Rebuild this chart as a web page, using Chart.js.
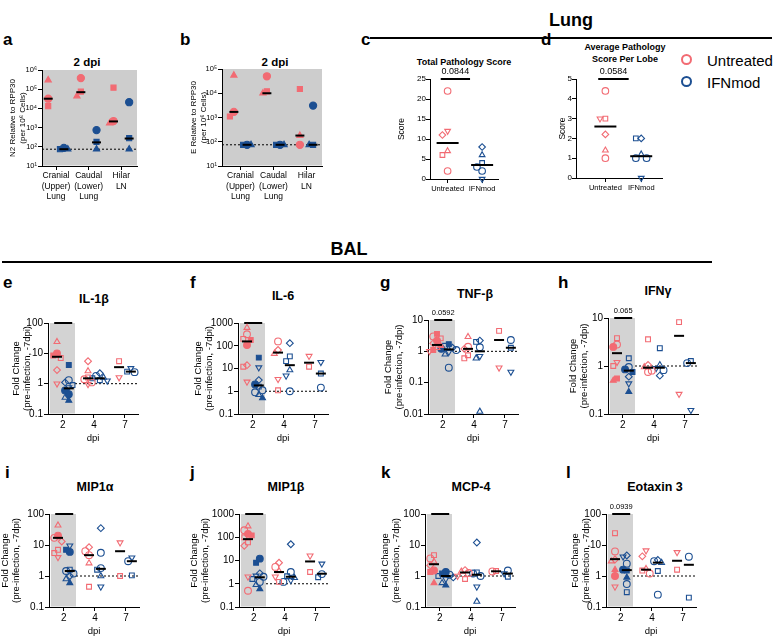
<!DOCTYPE html>
<html>
<head>
<meta charset="utf-8">
<script src="https://cdn.jsdelivr.net/npm/chart.js@4.4.0/dist/chart.umd.min.js"></script>
<style>
  body { margin: 0; width: 774px; height: 640px; position: relative; background: #fff; overflow: hidden;
         font-family: 'Liberation Sans', Arial, sans-serif; color: #000; }
  canvas { position: absolute; }
  .t { position: absolute; font-weight: bold; transform: translate(-50%, -50%); white-space: nowrap; text-align: center; }
  .lt { position: absolute; font-weight: bold; font-size: 17px; line-height: 1; }
  .rule { position: absolute; height: 2px; background: #000; }
  .dot { position: absolute; width: 7px; height: 7px; border: 2.5px solid; border-radius: 50%; }
  .lg { position: absolute; font-size: 15px; transform: translateY(-50%); }
</style>
</head>
<body>
<div class="t" style="left:571px;top:20px;font-size:18px">Lung</div>
<div class="rule" style="left:370px;top:37px;width:402px"></div>
<div class="t" style="left:349px;top:249px;font-size:18px">BAL</div>
<div class="rule" style="left:2px;top:261px;width:710px"></div>

<div class="lt" style="left:3px;top:31px">a</div>
<div class="lt" style="left:180px;top:31px">b</div>
<div class="lt" style="left:361px;top:31px">c</div>
<div class="lt" style="left:541px;top:31px">d</div>
<div class="lt" style="left:3px;top:274px">e</div>
<div class="lt" style="left:190px;top:274px">f</div>
<div class="lt" style="left:380px;top:274px">g</div>
<div class="lt" style="left:558px;top:274px">h</div>
<div class="lt" style="left:5px;top:464px">i</div>
<div class="lt" style="left:190px;top:464px">j</div>
<div class="lt" style="left:381px;top:464px">k</div>
<div class="lt" style="left:566px;top:464px">l</div>

<div class="t" style="left:87px;top:62px;font-size:11.5px">2 dpi</div>
<div class="t" style="left:275px;top:62px;font-size:11.5px">2 dpi</div>
<div class="t" style="left:464px;top:62px;font-size:9px">Total Pathology Score</div>
<div class="t" style="left:625px;top:53px;font-size:9px;line-height:12px">Average Pathology<br>Score Per Lobe</div>
<div class="t" style="left:94px;top:299px;font-size:12.5px">IL-1β</div>
<div class="t" style="left:283px;top:296px;font-size:12.5px">IL-6</div>
<div class="t" style="left:475px;top:294px;font-size:12.5px">TNF-β</div>
<div class="t" style="left:658px;top:291px;font-size:12.5px">IFNγ</div>
<div class="t" style="left:95px;top:487px;font-size:12.5px">MIP1α</div>
<div class="t" style="left:286px;top:487px;font-size:12.5px">MIP1β</div>
<div class="t" style="left:471px;top:487px;font-size:12.5px">MCP-4</div>
<div class="t" style="left:655px;top:487px;font-size:12.5px">Eotaxin 3</div>

<div class="dot" style="left:681px;top:54px;border-color:#f26b73"></div>
<div class="lg" style="left:707px;top:60px">Untreated</div>
<div class="dot" style="left:681px;top:76px;border-color:#1c4f92"></div>
<div class="lg" style="left:707px;top:82px">IFNmod</div>

<script>
// ---- data -------------------------------------------------------------
// marker codes: o circle, s square, ^ triangle, v inverted triangle, d diamond (open)
//               O, S, T = filled circle, square, triangle
const sites = [['Cranial', '(Upper)', 'Lung'], ['Caudal', '(Lower)', 'Lung'], ['Hilar', 'LN']];
const lod = 75;

// a: N2 relative to RPP30, rows = [site, value, marker]
const n2Unt = [[1, 3e5, 'T'], [1, 3.2e4, 'O'], [1, 1.3e4, 'S'], [2, 3.8e5, 'O'], [2, 7.4e4, 'S'], [2, 4.4e4, 'T'],
               [3, 1.2e5, 'S'], [3, 2.2e3, 'O'], [3, 1.7e3, 'T']];
const n2Ifn = [[1, 88, 'O'], [1, 75, 'S'], [1, 75, 'T'], [2, 740, 'O'], [2, 180, 'S'], [2, 75, 'T'],
               [3, 2.1e4, 'O'], [3, 280, 'S'], [3, 75, 'T']];
const n2UntMed = [3.2e4, 7e4, 2.1e3];
const n2IfnMed = [75, 170, 270];

// b: E relative to RPP30
const envUnt = [[1, 5.5e4, 'T'], [1, 1.7e3, 'O'], [1, 1.1e3, 'S'], [2, 5e4, 'O'], [2, 1.2e4, 'S'], [2, 1.0e4, 'T'],
                [3, 1.5e4, 'S'], [3, 180, 'T'], [3, 75, 'O']];
const envIfn = [[1, 75, 'O'], [1, 75, 'S'], [1, 75, 'T'], [2, 75, 'O'], [2, 75, 'S'], [2, 75, 'T'],
                [3, 3.1e3, 'O'], [3, 75, 'S'], [3, 75, 'T']];
const envUntMed = [1.7e3, 1.0e4, 180];
const envIfnMed = [75, 75, 75];

// c, d: pathology scores
const groups = ['Untreated', 'IFNmod'];
const totalPathUnt = [[1, 22, 'o'], [1, 12, 'v'], [1, 11, 'd'], [1, 7, '^'], [1, 6, 's'], [1, 2, 'o']];
const totalPathIfn = [[2, 8, 'd'], [2, 6, '^'], [2, 4, 's'], [2, 3, 'o'], [2, 2, 'o'], [2, 0, 'v']];
const totalPathMed = [9, 3.5];
const avgPathUnt = [[1, 4.4, 'o'], [1, 3, 's'], [1, 3, 'v'], [1, 2.2, 'd'], [1, 1.4, '^'], [1, 1, 'o']];
const avgPathIfn = [[2, 2, 'd'], [2, 2, 's'], [2, 1.2, '^'], [2, 1, 'o'], [2, 1, 'o'], [2, 0, 'v']];
const avgPathMed = [2.6, 1.1];

// e-l: BAL fold change, rows = [dpi, value, marker]
const dpiLabels = ['2', '4', '7'];

const il1bUnt = [[2, 24, '^'], [2, 10, 'O'], [2, 8.5, 'S'], [2, 7, 's'], [2, 2.8, 'd'], [2, 1.0, 'v'],
  [4, 5.5, 'd'], [4, 2.6, '^'], [4, 1.6, 's'], [4, 1.4, 'o'], [4, 1.1, 'o'], [4, 0.95, 'v'],
  [7, 5.5, 's'], [7, 1.6, 'v']];
const il1bIfn = [[2, 4.1, 'S'], [2, 1.3, 'o'], [2, 1.1, 'd'], [2, 0.9, 's'], [2, 0.75, 'v'], [2, 0.6, 'O'], [2, 0.45, 'O'], [2, 0.35, '^'], [2, 0.28, 'T'],
  [4, 2.2, 'd'], [4, 1.8, 'o'], [4, 1.6, '^'], [4, 1.5, 's'], [4, 1.3, 's'], [4, 1.25, 'v'],
  [7, 3.2, 'v'], [7, 2.5, 's'], [7, 2.4, 'o']];
const il1bUntMed = [7.7, 1.5, 3.5];
const il1bIfnMed = [0.7, 1.5, 2.5];

const il6Unt = [[2, 620, '^'], [2, 320, 'o'], [2, 200, 's'], [2, 180, 'S'], [2, 107, 'O'], [2, 14, 'd'], [2, 12, 's'], [2, 2.6, 'v'],
  [4, 155, 'o'], [4, 65, 'd'], [4, 45, '^'], [4, 3.4, 'v'], [4, 1.1, 's'],
  [7, 35, 'v'], [7, 12, 's']];
const il6Ifn = [[2, 30, 'S'], [2, 11, 'v'], [2, 3.1, 'd'], [2, 2.0, 'O'], [2, 1.6, 's'], [2, 1.1, 'o'], [2, 0.9, 'o'], [2, 0.7, '^'], [2, 0.5, 'T'],
  [4, 130, 'd'], [4, 34, 's'], [4, 21, 's'], [4, 8.5, '^'], [4, 4.8, 'v'], [4, 1.0, 'o'],
  [7, 19, 'v'], [7, 6, 's'], [7, 1.45, 'o']];
const il6UntMed = [155, 50, 18];
const il6IfnMed = [1.8, 14, 6];

const tnfbUnt = [[2, 3.6, 'S'], [2, 3.0, 'o'], [2, 2.6, 's'], [2, 2.2, 'O'], [2, 1.8, 'd'], [2, 1.5, 'T'], [2, 1.3, '^'], [2, 1.1, 'S'], [2, 1.0, 'v'],
  [4, 2.9, '^'], [4, 1.4, 'o'], [4, 1.2, 'd'], [4, 0.75, 's'], [4, 0.6, 's'],
  [7, 4.5, 's'], [7, 0.3, 'v']];
const tnfbIfn = [[2, 1.7, 'S'], [2, 1.5, 's'], [2, 1.3, 'd'], [2, 1.2, 'O'], [2, 1.1, 'o'], [2, 0.95, 'v'], [2, 0.8, '^'], [2, 0.3, 'o'],
  [4, 2.2, 'd'], [4, 2.0, 's'], [4, 1.35, 'o'], [4, 0.7, 'v'], [4, 0.6, '^'], [4, 0.012, '^'],
  [7, 2.3, 'o'], [7, 1.3, 's'], [7, 0.22, 'v']];
const tnfbUntMed = [1.6, 1.2, 2.3];
const tnfbIfnMed = [1.15, 1.0, 1.3];

const ifngUnt = [[2, 3.8, 's'], [2, 2.8, 'o'], [2, 2.5, 'O'], [2, 1.2, 'v'], [2, 1.0, 's'], [2, 0.55, 'S'], [2, 0.5, 'T'],
  [4, 3.6, 's'], [4, 1.05, 'd'], [4, 0.95, '^'], [4, 0.8, 'o'], [4, 0.75, 'o'],
  [7, 8.2, 's'], [7, 0.26, 'v']];
const ifngIfn = [[2, 1.45, 's'], [2, 0.95, 'o'], [2, 0.85, 'O'], [2, 0.75, 'S'], [2, 0.6, 'd'], [2, 0.43, 'v'], [2, 0.29, 'T'],
  [4, 2.35, 's'], [4, 1.05, '^'], [4, 0.9, 'v'], [4, 0.82, 'o'], [4, 0.63, 'd'],
  [7, 1.27, 's'], [7, 1.15, 'o'], [7, 0.12, 'v']];
const ifngUntMed = [1.85, 0.92, 4.25];
const ifngIfnMed = [0.8, 0.92, 1.15];

const mip1aUnt = [[2, 43, '^'], [2, 20, 'O'], [2, 17, 'o'], [2, 13, 'd'], [2, 7, 's'], [2, 5.5, 's'], [2, 4, 'v'],
  [4, 8.5, 'd'], [4, 6.3, 'o'], [4, 4.7, 'o'], [4, 2.6, '^'], [4, 0.45, 's'],
  [7, 12, 'v'], [7, 1.0, 's']];
const mip1aIfn = [[2, 9.5, 'v'], [2, 7, 'S'], [2, 6, 'O'], [2, 1.6, 's'], [2, 1.45, 'o'], [2, 1.2, 'o'], [2, 1.0, 'd'], [2, 0.8, '^'], [2, 0.6, 'T'],
  [4, 35, 'd'], [4, 5.6, 'o'], [4, 1.8, 'o'], [4, 1.6, 's'], [4, 1.0, '^'], [4, 0.45, 'v'],
  [7, 3.9, 'v'], [7, 3.0, 'o'], [7, 1.05, 's']];
const mip1aUntMed = [17, 4.7, 6.3];
const mip1aIfnMed = [1.45, 1.7, 3.0];

const mip1bUnt = [[2, 300, '^'], [2, 200, 'o'], [2, 140, 'O'], [2, 120, 'S'], [2, 100, 's'], [2, 60, 's'], [2, 43, 'd'], [2, 2, 'v'], [2, 0.5, 'o'],
  [4, 8, 'd'], [4, 5.3, 'o'], [4, 3.5, '^'], [4, 2, 'v'], [4, 1.2, 's'],
  [7, 16, 'v'], [7, 3.2, 's']];
const mip1bIfn = [[2, 12, 'O'], [2, 8, 'S'], [2, 2.8, 'd'], [2, 2.2, 'v'], [2, 2.0, 'o'], [2, 1.6, 's'], [2, 1.2, 'o'], [2, 0.9, '^'], [2, 0.6, 'T'],
  [4, 50, 'd'], [4, 3.2, 'o'], [4, 2.1, 's'], [4, 1.8, '^'], [4, 1.4, 'v'], [4, 1.2, 'o'],
  [7, 7.2, 'v'], [7, 2.6, 'o'], [7, 1.9, 's']];
const mip1bUntMed = [83, 3.2, 9.1];
const mip1bIfnMed = [1.9, 2.0, 2.7];

const mcp4Unt = [[2, 4.7, 's'], [2, 3.7, 'o'], [2, 2.9, '^'], [2, 2.2, 'd'], [2, 1.5, 'O'], [2, 1.35, 'S'], [2, 0.6, 'T'],
  [4, 1.55, 'd'], [4, 1.4, '^'], [4, 1.25, 'o'], [4, 1.0, 'v'], [4, 0.8, 's'],
  [7, 1.45, 's'], [7, 1.4, 'o']];
const mcp4Ifn = [[2, 1.35, 'O'], [2, 1.2, 'S'], [2, 1.1, 'o'], [2, 1.0, 's'], [2, 0.9, 'd'], [2, 0.8, 'v'], [2, 0.6, '^'], [2, 0.5, 'T'],
  [4, 12, 'd'], [4, 1.3, 's'], [4, 1.2, 'o'], [4, 1.0, 'o'], [4, 0.45, 'v'], [4, 0.15, '^'],
  [7, 1.5, 'o'], [7, 1.2, 'v'], [7, 0.95, 's']];
const mcp4UntMed = [2.4, 1.3, 1.42];
const mcp4IfnMed = [1.0, 1.1, 1.2];

const eot3Unt = [[2, 24, 's'], [2, 6.2, 'o'], [2, 3.4, 'd'], [2, 3.0, '^'], [2, 1.6, 'T'], [2, 1.0, 'O'], [2, 0.45, 'v'],
  [4, 6.6, 'v'], [4, 4.3, 'd'], [4, 1.7, '^'], [4, 1.5, 's'], [4, 1.2, 'o'],
  [7, 5.8, 'v'], [7, 1.6, 's']];
const eot3Ifn = [[2, 4.6, 'd'], [2, 4.2, 'v'], [2, 2.5, 'o'], [2, 1.6, 'O'], [2, 1.5, 'S'], [2, 0.9, 'T'], [2, 0.55, 'o'], [2, 0.3, 's'],
  [4, 3.3, 'd'], [4, 3.0, 'o'], [4, 2.7, '^'], [4, 1.45, 's'], [4, 0.25, 'o'],
  [7, 4.2, 'o'], [7, 0.2, 's']];
const eot3UntMed = [3.5, 1.6, 3.1];
const eot3IfnMed = [1.55, 2.7, 2.3];

// ---- drawing ----------------------------------------------------------
const FONT = "'Liberation Sans', Arial, sans-serif";
const PINK = '#f26b73', BLUE = '#1c4f92';
const SHAPES = { o: 'circle', O: 'circle', s: 'rect', S: 'rect', '^': 'triangle', T: 'triangle', v: 'triangle', d: 'rectRot' };
const SUP = { 1: '¹', 2: '²', 3: '³', 4: '⁴', 5: '⁵', 6: '⁶' };
Chart.defaults.font.family = FONT;
Chart.defaults.color = '#000';

// spread overlapping points sideways, like the prism scatter
function swarm(vals, frac, step) {
  const placed = [];
  return vals.map(v => {
    const f = frac(v);
    let col = 0;
    for (const c of [0, -1, 1, -2, 2, -3, 3]) {
      if (!placed.some(p => p.c === c && Math.abs(p.f - f) < 0.065)) { col = c; break; }
    }
    placed.push({ c: col, f });
    return col * step;
  });
}

function groupPoints(rows, catOf, shift, frac, step) {
  const out = [];
  [...new Set(rows.map(r => catOf(r[0])))].forEach(ci => {
    const grp = rows.filter(r => catOf(r[0]) === ci);
    const offs = swarm(grp.map(r => r[1]), frac, step);
    grp.forEach((r, k) => out.push({ x: ci + shift + offs[k], y: r[1], m: r[2] }));
  });
  return out;
}

function markerSet(points, color, r) {
  const mk = c => (c.raw ? c.raw.m : 'o');
  return {
    type: 'scatter', data: points, order: 1, clip: false,
    pointStyle: c => SHAPES[mk(c)],
    pointRotation: c => (mk(c) === 'v' ? 180 : 0),
    pointRadius: r, pointBorderWidth: 1.1, pointBorderColor: color,
    pointBackgroundColor: c => ('OST'.includes(mk(c)) ? color : 'rgba(0,0,0,0)')
  };
}

function medianSet(meds, firstCat, shift, half) {
  return {
    type: 'scatter', data: meds.map((v, i) => ({ x: firstCat + i + shift, y: v })), order: 0, clip: false,
    pointStyle: 'line', pointRadius: half, pointBorderWidth: 2, pointBorderColor: '#000', pointBackgroundColor: '#000'
  };
}

function lineSet(x0, x1, y, dash, w) {
  return {
    type: 'line', data: [{ x: x0, y }, { x: x1, y }], order: 2, clip: false, fill: false,
    borderColor: '#000', borderWidth: w, borderDash: dash, pointRadius: 0
  };
}

const decor = {
  id: 'decor',
  beforeDatasetsDraw(chart, args, o) {
    if (!o.grey) return;
    const a = chart.chartArea, x = chart.scales.x, ctx = chart.ctx;
    const l = Math.max(x.getPixelForValue(o.grey[0]), a.left + 1);
    const r = Math.min(x.getPixelForValue(o.grey[1]), a.right);
    ctx.save();
    ctx.fillStyle = o.greyColor;
    ctx.fillRect(l, a.top, r - l, a.bottom - a.top - 0.5);
    ctx.restore();
  },
  afterDatasetsDraw(chart, args, o) {
    if (!o.sig || !o.sig.text) return;
    const ctx = chart.ctx, x = chart.scales.x, y = chart.scales.y;
    ctx.save();
    ctx.font = o.sig.size + 'px ' + FONT;
    ctx.fillStyle = '#000';
    ctx.textAlign = 'center';
    ctx.textBaseline = 'bottom';
    ctx.fillText(o.sig.text, x.getPixelForValue((o.sig.x0 + o.sig.x1) / 2), y.getPixelForValue(o.sig.y) - 3);
    ctx.restore();
  }
};

function decades(lo, hi) {
  const out = [];
  for (let e = Math.round(Math.log10(lo)); e <= Math.round(Math.log10(hi)); e++) out.push(Number((10 ** e).toPrecision(1)));
  return out;
}

function makeChart(p) {
  const lh = p.yTitleSize * 1.2;
  const left = Math.floor(p.titleX - lh / 2 - 1);
  const W = p.axisX - left;
  const w = W + p.plotW + 8, h = p.plotBottom + p.xH - p.top;
  const cv = document.createElement('canvas');
  cv.width = w; cv.height = h;
  cv.style.cssText = `left:${left}px;top:${p.top}px;width:${w}px;height:${h}px`;
  document.body.appendChild(cv);

  const axisLines = { drawOnChartArea: false, color: '#000', lineWidth: 1, tickLength: 4 };
  const y = {
    type: p.yType, min: p.ymin, max: p.ymax,
    afterFit: s => { s.width = W; },
    ticks: { font: { size: p.tickSize }, color: '#000', padding: p.tickPad },
    grid: axisLines,
    border: { color: '#000', width: 1 },
    title: { display: true, text: p.yTitle, font: { size: p.yTitleSize }, color: '#000',
             padding: { top: p.titleX - lh / 2 - left, bottom: 0 } }
  };
  if (p.yType === 'logarithmic') {
    y.afterBuildTicks = s => { s.ticks = decades(p.ymin, p.ymax).map(v => ({ value: v })); };
    y.ticks.callback = p.yFmt;
  } else {
    y.ticks.stepSize = p.yStep;
  }
  const x = {
    type: 'linear', min: p.xmin, max: p.xmax,
    afterBuildTicks: s => { s.ticks = p.xLabels.map((_, i) => ({ value: i + 1 })); },
    afterFit: s => { s.height = p.xH; },
    ticks: { callback: (v, i) => p.xLabels[i], font: { size: p.xTickSize }, color: '#000',
             maxRotation: 0, minRotation: 0, autoSkip: false, padding: 1 },
    grid: axisLines,
    border: { color: '#000', width: 1 },
    title: { display: !!p.xTitle, text: p.xTitle, font: { size: 9.5 }, color: '#000', padding: { top: 0, bottom: 1 } }
  };

  new Chart(cv, {
    type: 'scatter',
    data: { datasets: p.datasets },
    options: {
      responsive: false, animation: false, devicePixelRatio: 1, events: [],
      layout: { padding: { top: p.plotTop - p.top, right: 8, left: 0, bottom: 0 } },
      scales: { x, y },
      plugins: {
        legend: { display: false }, tooltip: { enabled: false },
        decor: { grey: p.grey, greyColor: p.greyColor, sig: p.sig }
      }
    },
    plugins: [decor]
  });
}

const logFrac = (lo, hi) => v => (Math.log10(v) - Math.log10(lo)) / (Math.log10(hi) - Math.log10(lo));
const supFmt = v => '10' + SUP[Math.round(Math.log10(v))];

// a, b: viral RNA in tissue
[
  { unt: n2Unt, ifn: n2Ifn, untMed: n2UntMed, ifnMed: n2IfnMed, ymax: 1e6, axisX: 42, titleX: 13, plotW: 95,
    plotTop: 70, xmin: 0.57, xmax: 3.48, shift: 0.24, yTitle: ['N2 Relative to RPP30', '(per 10⁶ Cells)'] },
  { unt: envUnt, ifn: envIfn, untMed: envUntMed, ifnMed: envIfnMed, ymax: 1e5, axisX: 222, titleX: 194, plotW: 100,
    plotTop: 69, xmin: 0.44, xmax: 3.47, shift: 0.2, yTitle: ['E Relative to RPP30', '(per 10⁶ Cells)'] }
].forEach(c => {
  const frac = logFrac(10, c.ymax);
  const cat = s => s;
  makeChart({
    axisX: c.axisX, titleX: c.titleX, top: 60, plotTop: c.plotTop, plotBottom: 166, plotW: c.plotW, xH: 38,
    yType: 'logarithmic', ymin: 10, ymax: c.ymax, yFmt: supFmt, tickSize: 7.5, tickPad: 1,
    yTitle: c.yTitle, yTitleSize: 8,
    xmin: c.xmin, xmax: c.xmax, xLabels: sites, xTickSize: 8.5,
    grey: [c.xmin, c.xmax], greyColor: '#cdcdcd',
    datasets: [
      markerSet(groupPoints(c.unt, cat, -c.shift, frac, 0.12), PINK, 3.6),
      markerSet(groupPoints(c.ifn, cat, c.shift, frac, 0.12), BLUE, 3.6),
      medianSet(c.untMed, 1, -c.shift, 4.5),
      medianSet(c.ifnMed, 1, c.shift, 4.5),
      lineSet(c.xmin, c.xmax, lod, [2, 2], 1)
    ]
  });
});

// c, d: pathology scores
[
  { unt: totalPathUnt, ifn: totalPathIfn, med: totalPathMed, ymax: 25, step: 5, axisX: 430, titleX: 402, plotW: 73,
    xmin: 0.49, xmax: 2.46, plotBottom: 179, sig: '0.0844' },
  { unt: avgPathUnt, ifn: avgPathIfn, med: avgPathMed, ymax: 5, step: 1, axisX: 576, titleX: 563, plotW: 91,
    xmin: 0.18, xmax: 2.58, plotBottom: 178, sig: '0.0584' }
].forEach(c => {
  const frac = v => v / c.ymax;
  const cat = g => g;
  makeChart({
    axisX: c.axisX, titleX: c.titleX, top: 60, plotTop: 79, plotBottom: c.plotBottom, plotW: c.plotW, xH: 22,
    yType: 'linear', ymin: 0, ymax: c.ymax, yStep: c.step, tickSize: 8, tickPad: 0,
    yTitle: 'Score', yTitleSize: 8.5,
    xmin: c.xmin, xmax: c.xmax, xLabels: groups, xTickSize: 7.5,
    sig: { x0: 0.8, x1: 1.65, y: c.ymax, text: c.sig, size: 9 },
    datasets: [
      markerSet(groupPoints(c.unt, cat, 0, frac, 0.15), PINK, 3.3),
      markerSet(groupPoints(c.ifn, cat, 0, frac, 0.15), BLUE, 3.3),
      medianSet(c.med, 1, 0, 11),
      lineSet(0.8, 1.65, c.ymax, [], 2)
    ]
  });
});

// e-l: BAL cytokines
[
  { unt: il1bUnt, ifn: il1bIfn, untMed: il1bUntMed, ifnMed: il1bIfnMed, ymin: 0.1, ymax: 100, axisX: 48, titleX: 16, top: 300, plotTop: 323, plotBottom: 414, sig: '' },
  { unt: il6Unt, ifn: il6Ifn, untMed: il6UntMed, ifnMed: il6IfnMed, ymin: 0.1, ymax: 1000, axisX: 238, titleX: 198, top: 300, plotTop: 323, plotBottom: 414, sig: '' },
  { unt: tnfbUnt, ifn: tnfbIfn, untMed: tnfbUntMed, ifnMed: tnfbIfnMed, ymin: 0.01, ymax: 10, axisX: 428, titleX: 388, top: 298, plotTop: 320, plotBottom: 414, sig: '0.0592' },
  { unt: ifngUnt, ifn: ifngIfn, untMed: ifngUntMed, ifnMed: ifngIfnMed, ymin: 0.1, ymax: 10, axisX: 608, titleX: 573, top: 298, plotTop: 318, plotBottom: 414, sig: '0.065' },
  { unt: mip1aUnt, ifn: mip1aIfn, untMed: mip1aUntMed, ifnMed: mip1aIfnMed, ymin: 0.1, ymax: 100, axisX: 49, titleX: 5, top: 495, plotTop: 514, plotBottom: 607, sig: '' },
  { unt: mip1bUnt, ifn: mip1bIfn, untMed: mip1bUntMed, ifnMed: mip1bIfnMed, ymin: 0.1, ymax: 1000, axisX: 239, titleX: 194, top: 495, plotTop: 514, plotBottom: 607, sig: '' },
  { unt: mcp4Unt, ifn: mcp4Ifn, untMed: mcp4UntMed, ifnMed: mcp4IfnMed, ymin: 0.1, ymax: 100, axisX: 425, titleX: 385, top: 495, plotTop: 514, plotBottom: 607, sig: '' },
  { unt: eot3Unt, ifn: eot3Ifn, untMed: eot3UntMed, ifnMed: eot3IfnMed, ymin: 0.1, ymax: 100, axisX: 606, titleX: 575, top: 495, plotTop: 514, plotBottom: 607, sig: '0.0939' }
].forEach(c => {
  const frac = logFrac(c.ymin, c.ymax);
  const cat = d => dpiLabels.indexOf(String(d)) + 1;
  const xmin = 0.52, xmax = 3.42, greyEnd = 1.39;
  makeChart({
    axisX: c.axisX, titleX: c.titleX, top: c.top, plotTop: c.plotTop, plotBottom: c.plotBottom, plotW: 90, xH: 31,
    yType: 'logarithmic', ymin: c.ymin, ymax: c.ymax, yFmt: v => String(v), tickSize: 10, tickPad: 1,
    yTitle: ['Fold Change', '(pre-infection, -7dpi)'], yTitleSize: 9.5,
    xmin, xmax, xLabels: dpiLabels, xTickSize: 10, xTitle: 'dpi',
    grey: [0.58, greyEnd], greyColor: '#d3d3d3',
    sig: { x0: 0.72, x1: 1.3, y: c.ymax, text: c.sig, size: 7.5 },
    datasets: [
      markerSet(groupPoints(c.unt, cat, -0.19, frac, 0.12), PINK, 3.4),
      markerSet(groupPoints(c.ifn, cat, 0.19, frac, 0.12), BLUE, 3.4),
      medianSet(c.untMed, 1, -0.19, 5),
      medianSet(c.ifnMed, 1, 0.19, 5),
      lineSet(greyEnd, xmax, 1, [2, 2], 1),
      lineSet(0.72, 1.3, c.ymax, [], 2)
    ]
  });
});
</script>
</body>
</html>
